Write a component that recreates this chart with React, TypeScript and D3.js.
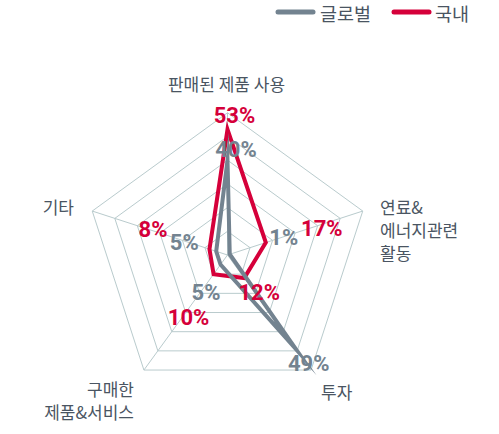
import React from "react";
import * as d3 from "d3";

const categories = [
  ["판매된 제품 사용"],
  ["연료&", "에너지관련", "활동"],
  ["투자"],
  ["구매한", "제품&서비스"],
  ["기타"],
];
const seriesNames = ["글로벌", "국내"];
const globalValues = [40, 1, 49, 5, 5];
const domesticValues = [53, 17, 12, 10, 8];
const maxValue = 60;
const ringCount = 6;

const GREY = "#738390";
const RED = "#d5003a";
const GRID = "#b9cbcd";
const TEXT = "#4a5562";

// label offsets (px) relative to each data point
const globalLabelOffsets = [[8.5, -3], [54, -9], [13, 22], [-14.5, 35], [-32, -1]];
const domesticLabelOffsets = [[7, -6], [56, -6.5], [15, 22], [-25, 51], [-56.5, -12]];

const W = 499, H = 434;
const cx = 227.5, cy = 255, R = 142.2;

export default function App() {
  const n = categories.length;
  const angle = d3.scaleLinear().domain([0, n]).range([0, 2 * Math.PI]);
  const r = d3.scaleLinear().domain([0, maxValue]).range([0, R]);
  const pt = (i: number, rad: number): [number, number] => [
    cx + rad * Math.sin(angle(i)),
    cy - rad * Math.cos(angle(i)),
  ];
  const closed = d3.line().curve(d3.curveLinearClosed);
  const rings = d3.range(1, ringCount + 1).map((k) => (maxValue / ringCount) * k);

  const seriesList = [
    { values: domesticValues, color: RED, offsets: domesticLabelOffsets },
    { values: globalValues, color: GREY, offsets: globalLabelOffsets },
  ];

  const font = "Roboto, 'Noto Sans CJK KR', sans-serif";
  const kfont = "'Noto Sans CJK KR', 'Noto Sans', sans-serif";

  // axis label layout
  const axisLabels = [
    { x: cx - 1, y: 91, anchor: "middle", lh: 23 },
    { x: 380, y: 214, anchor: "start", lh: 23 },
    { x: 321, y: 399, anchor: "start", lh: 23 },
    { x: 134, y: 396, anchor: "end", lh: 23 },
    { x: 74, y: 214, anchor: "end", lh: 23 },
  ];

  return (
    <svg width={W} height={H} style={{ position: "absolute", left: 0, top: 0 }}>
      {/* legend */}
      <g fontFamily={kfont} fontSize={18.5} fill={TEXT}>
        <line x1={278} x2={313} y1={12} y2={12} stroke={GREY} strokeWidth={5} strokeLinecap="round" />
        <text x={320} y={20.5}>{seriesNames[0]}</text>
        <line x1={394} x2={429} y1={12} y2={12} stroke={RED} strokeWidth={5} strokeLinecap="round" />
        <text x={435} y={20.5}>{seriesNames[1]}</text>
      </g>
      {/* grid */}
      <g fill="none" stroke={GRID} strokeWidth={1}>
        {rings.map((v) => (
          <path key={v} d={closed(d3.range(n).map((i) => pt(i, r(v)))) || ""} />
        ))}
        {d3.range(n).map((i) => {
          const [x, y] = pt(i, R);
          return <line key={i} x1={cx} y1={cy} x2={x} y2={y} />;
        })}
      </g>
      {/* series */}
      {seriesList.map((s, si) => (
        <path
          key={si}
          d={closed(s.values.map((v, i) => pt(i, r(v)))) || ""}
          fill="none"
          stroke={s.color}
          strokeWidth={4}
          strokeLinejoin="miter"
          strokeMiterlimit={20}
        />
      ))}
      {/* value labels */}
      {seriesList.map((s, si) =>
        s.values.map((v, i) => {
          const [x, y] = pt(i, r(v));
          return (
            <text
              key={`${si}-${i}`}
              x={x + s.offsets[i][0]}
              y={y + s.offsets[i][1]}
              textAnchor="middle"
              fontFamily={font}
              fontWeight={700}
              fontSize={22}
              fill={s.color}
            >
              {v}%
            </text>
          );
        })
      )}
      {/* axis labels */}
      {categories.map((lines, i) => {
        const a = axisLabels[i];
        return (
          <text key={i} x={a.x} y={a.y} textAnchor={a.anchor as any} fontFamily={kfont} fontSize={17} fill={TEXT}>
            {lines.map((l, j) => (
              <tspan key={j} x={a.x} y={a.y + j * a.lh}>
                {l}
              </tspan>
            ))}
          </text>
        );
      })}
    </svg>
  );
}
